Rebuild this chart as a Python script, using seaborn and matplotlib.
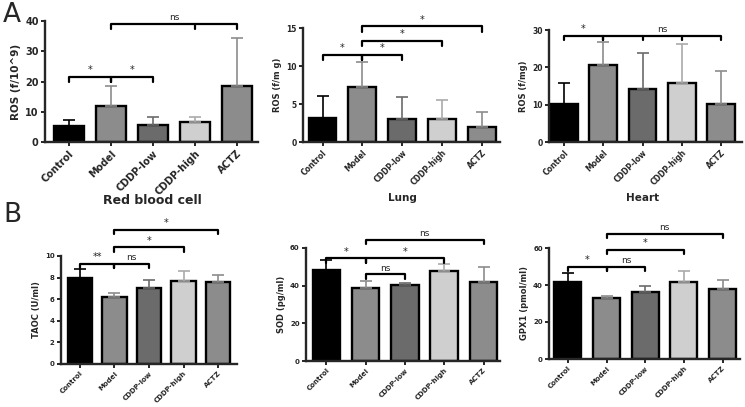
import matplotlib
matplotlib.use('Agg')
import matplotlib.pyplot as plt
import seaborn as sns
import pandas as pd

sns.set_style('ticks')
plt.rcParams['font.family'] = ['DejaVu Sans']

groups = ['Control', 'Model', 'CDDP-low', 'CDDP-high', 'ACTZ']
colors = ['#000000', '#8c8c8c', '#6b6b6b', '#cfcfcf', '#8c8c8c']

# panel A: ROS
ros_rbc_mean = [5.3, 12.0, 5.7, 6.7, 18.4]
ros_rbc_sd = [1.9, 6.5, 2.4, 1.7, 15.9]
ros_lung_mean = [3.2, 7.3, 3.0, 3.0, 2.0]
ros_lung_sd = [2.8, 3.2, 2.9, 2.5, 1.9]
ros_heart_mean = [10.3, 20.6, 14.3, 15.8, 10.3]
ros_heart_sd = [5.4, 6.3, 9.6, 10.5, 8.7]

# panel B: antioxidant markers
taoc_mean = [8.0, 6.2, 7.0, 7.7, 7.6]
taoc_sd = [0.8, 0.4, 0.8, 0.9, 0.6]
sod_mean = [48.5, 39.0, 40.3, 48.0, 42.0]
sod_sd = [5.0, 3.7, 1.2, 3.5, 7.8]
gpx_mean = [41.5, 33.0, 36.0, 41.5, 37.8]
gpx_sd = [4.8, 1.2, 3.2, 6.3, 5.0]

# significance brackets: (from, to, extra ticks, height, drop, label)
br_rbc = [(0, 1, [], 21.5, 1.8, '*'), (1, 2, [], 21.5, 1.8, '*'), (1, 4, [3], 39.0, 1.6, 'ns')]
br_lung = [(0, 1, [], 11.5, 0.7, '*'), (1, 2, [], 11.5, 0.7, '*'),
           (1, 3, [], 13.3, 0.7, '*'), (1, 4, [], 15.2, 0.7, '*')]
br_heart = [(0, 1, [], 28.5, 1.3, '*'), (1, 4, [2, 3], 28.5, 1.3, 'ns')]
br_taoc = [(0, 1, [], 9.3, 0.4, '**'), (1, 2, [], 9.3, 0.4, 'ns'),
           (1, 3, [], 10.8, 0.4, '*'), (1, 4, [], 12.4, 0.4, '*')]
br_sod = [(0, 1, [], 54.5, 2.2, '*'), (1, 2, [], 46.0, 2.2, 'ns'),
          (1, 3, [], 54.5, 2.2, '*'), (1, 4, [], 64.5, 2.2, 'ns')]
br_gpx = [(0, 1, [], 50.0, 2.2, '*'), (1, 2, [], 50.0, 2.2, 'ns'),
          (1, 3, [], 59.0, 2.2, '*'), (1, 4, [], 67.5, 2.2, 'ns')]

W, H = 745, 407
fig = plt.figure(figsize=(W / 100, H / 100), dpi=100)


def make_ax(left, right, bottom, top):
    return fig.add_axes([left / W, 1 - bottom / H, (right - left) / W, (bottom - top) / H])


def panel(ax, means, sds, ymax, yticks, xlim, ylabel, brackets, fs=5.2, yfs=6):
    df = pd.DataFrame({'group': groups, 'value': means})
    sns.barplot(data=df, x='group', y='value', hue='group', palette=colors,
                width=0.7, edgecolor='black', linewidth=1.7, legend=False, ax=ax)
    for i, (m, s) in enumerate(zip(means, sds)):
        c = colors[i] if i != 3 else '#aaaaaa'
        ax.errorbar(i, m, yerr=[[0], [s]], color=c, capsize=4, elinewidth=1.2,
                    capthick=1.2, zorder=1)
    ax.set_ylim(0, ymax)
    ax.set_xlim(*xlim)
    ax.set_yticks(yticks)
    sns.despine(ax=ax)
    for sp in ['left', 'bottom']:
        ax.spines[sp].set_linewidth(1.7)
    ax.tick_params(width=1.4, length=3, pad=1.5)
    ax.set_xticks(range(len(groups)))
    ax.set_xticklabels(groups, rotation=45, ha='right', rotation_mode='anchor',
                       fontsize=fs, fontweight='bold')
    for t in ax.get_yticklabels():
        t.set_fontsize(fs)
        t.set_fontweight('bold')
    ax.set_xlabel('')
    ax.set_ylabel(ylabel, fontsize=yfs, fontweight='bold', labelpad=3)
    for a, b, mids, y, d, lab in brackets:
        ax.plot([a, a, b, b], [y - d, y, y, y - d], color='black', lw=1.6, clip_on=False)
        for m in mids:
            ax.plot([m, m], [y, y - d], color='black', lw=1.6, clip_on=False)
        off = ymax * 0.015
        ax.text((a + b) / 2, y + off, lab, ha='center', va='bottom',
                fontsize=7 if lab != 'ns' else 6.5, clip_on=False)


ax1 = make_ax(45, 258, 142, 21)
panel(ax1, ros_rbc_mean, ros_rbc_sd, 40, [0, 10, 20, 30, 40], (-0.57, 4.5),
      'ROS (f/10^9)', br_rbc, fs=7, yfs=7.5)
fig.text(152 / W, 1 - 200 / H, 'Red blood cell', fontsize=9, fontweight='bold',
         ha='center', va='center')

ax2 = make_ax(303, 500, 142, 28)
panel(ax2, ros_lung_mean, ros_lung_sd, 15, [0, 5, 10, 15], (-0.49, 4.45),
      'ROS (f/m g)', br_lung, fs=5.5)
fig.text(402 / W, 1 - 198 / H, 'Lung', fontsize=7.5, fontweight='bold',
         ha='center', va='center')

ax3 = make_ax(549, 742, 142, 30)
panel(ax3, ros_heart_mean, ros_heart_sd, 30, [0, 10, 20, 30], (-0.38, 4.53),
      'ROS (f/mg)', br_heart, fs=5.5)
fig.text(643 / W, 1 - 198 / H, 'Heart', fontsize=7.5, fontweight='bold',
         ha='center', va='center')

ax4 = make_ax(61, 237, 364, 256)
panel(ax4, taoc_mean, taoc_sd, 10, [0, 2, 4, 6, 8, 10], (-0.55, 4.55),
      'TAOC (U/ml)', br_taoc, fs=5)

ax5 = make_ax(306, 500, 361, 248)
panel(ax5, sod_mean, sod_sd, 60, [0, 20, 40, 60], (-0.52, 4.42),
      'SOD (pg/ml)', br_sod, fs=5)

ax6 = make_ax(549, 740, 359, 248)
panel(ax6, gpx_mean, gpx_sd, 60, [0, 20, 40, 60], (-0.49, 4.45),
      'GPX1 (pmol/ml)', br_gpx, fs=5)

fig.text(3 / W, 1 - 2 / H, 'A', fontsize=19, va='top', ha='left')
fig.text(3 / W, 1 - 202 / H, 'B', fontsize=19, va='top', ha='left')

fig.savefig('out.png', dpi=100)
